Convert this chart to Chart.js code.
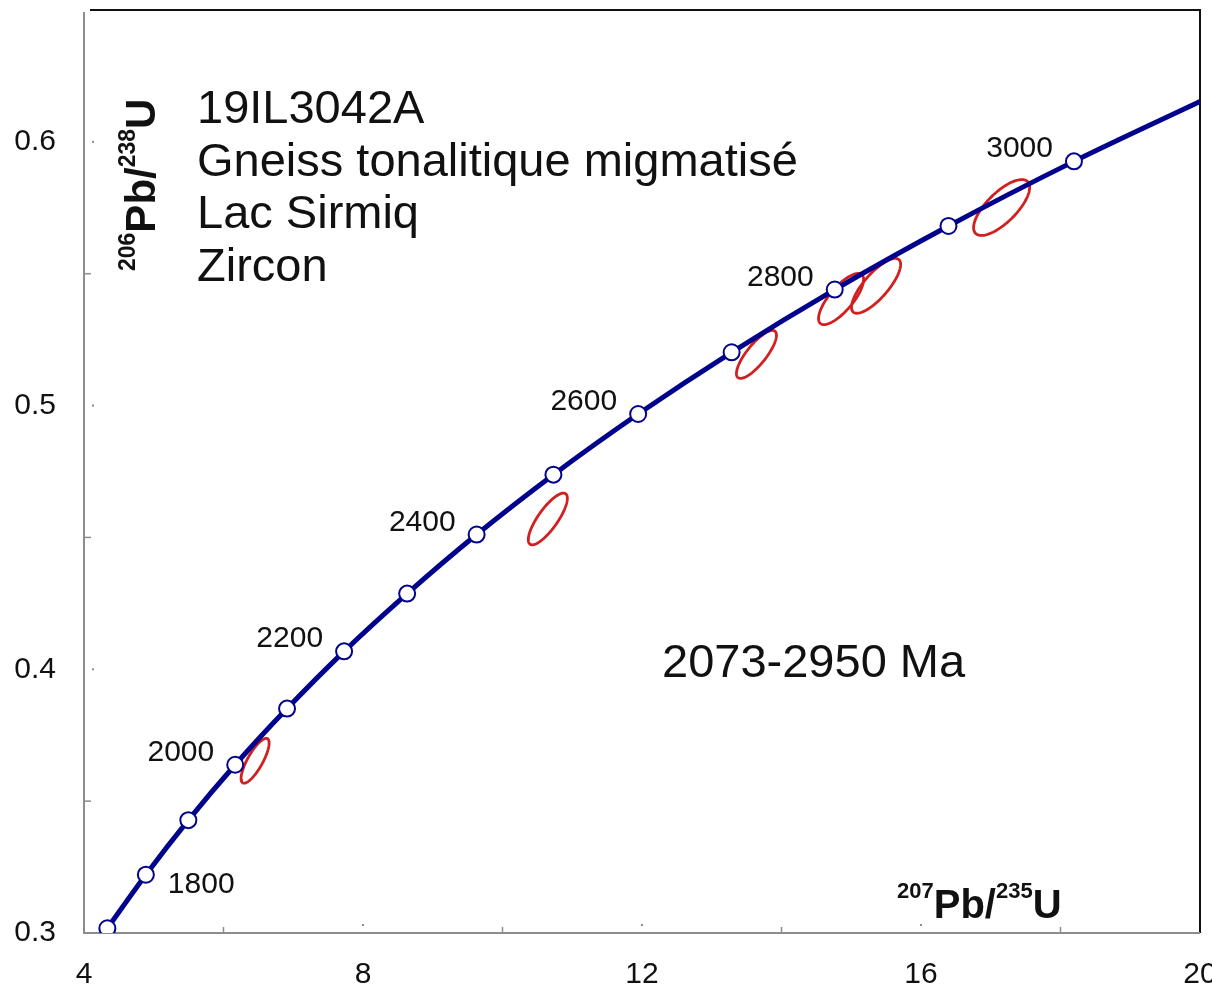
<!DOCTYPE html>
<html>
<head>
<meta charset="utf-8">
<script src="https://cdn.jsdelivr.net/npm/chart.js@4.4.1/dist/chart.umd.min.js"></script>
<style>
  html, body { margin: 0; padding: 0; background: #fff; }
  #chartConcordia { display: block; }
</style>
</head>
<body>
<canvas id="chartConcordia" width="1212" height="987"></canvas>
<script>
// points d'âge sur la concordia (Ma)
const markerAges = [1700, 1800, 1900, 2000, 2100, 2200, 2300, 2400, 2500, 2600, 2700, 2800, 2900, 3000];
const markerX = [4.335, 4.887, 5.496, 6.168, 6.911, 7.729, 8.633, 9.629, 10.730, 11.945, 13.285, 14.763, 16.394, 18.193];
const markerY = [0.3018, 0.3221, 0.3428, 0.3638, 0.3851, 0.4068, 0.4287, 0.4511, 0.4738, 0.4968, 0.5202, 0.5440, 0.5681, 0.5926];
const labelledAges = [1800, 2000, 2200, 2400, 2600, 2800, 3000];
// fin de la courbe au bord droit
const curveEndX = [20];
const curveEndY = [0.6153];

// ellipses d'erreur (centre, demi-largeurs, corrélation)
const ellX = [6.453, 10.650, 13.641, 14.854, 15.356, 17.156];
const ellY = [0.3653, 0.4570, 0.5194, 0.5404, 0.5454, 0.5751];
const ellDX = [0.201, 0.280, 0.287, 0.323, 0.352, 0.402];
const ellDY = [0.0085, 0.0098, 0.0091, 0.0097, 0.0104, 0.0106];
const ellRho = [0.79, 0.80, 0.80, 0.76, 0.78, 0.72];

const sampleLines = ["19IL3042A", "Gneiss tonalitique migmatisé", "Lac Sirmiq", "Zircon"];
const ageRange = "2073-2950 Ma";

const xTicks = [4, 8, 12, 16, 20];
const yTicks = [0.3, 0.4, 0.5, 0.6];

const FONT = "'Liberation Sans', Arial, sans-serif";
const NAVY = "#02038c";
const RED = "#d21f1f";

function pointsCourbe() {
    const pts = markerX.map((x, i) => ({ x: x, y: markerY[i] }));
    curveEndX.forEach((x, i) => pts.push({ x: x, y: curveEndY[i] }));
    return pts;
}

function dessinerTexteIndice(ctx, parts, x, y) {
    // parts: [texte, taille, exposant?]
    let cx = x;
    parts.forEach((p) => {
        ctx.font = "bold " + p[1] + "px " + FONT;
        ctx.fillText(p[0], cx, p[2] ? y - 20 : y);
        cx += ctx.measureText(p[0]).width;
    });
}

const pluginEllipses = {
    id: "ellipses",
    beforeDatasetsDraw(chart) {
        const ctx = chart.ctx;
        const sx = chart.scales.x;
        const sy = chart.scales.y;
        ctx.save();
        ctx.strokeStyle = RED;
        ctx.lineWidth = 2.8;
        for (let i = 0; i < ellX.length; i++) {
            const phi = Math.acos(ellRho[i]);
            ctx.beginPath();
            for (let k = 0; k <= 120; k++) {
                const t = (k / 120) * Math.PI * 2;
                const px = sx.getPixelForValue(ellX[i] + ellDX[i] * Math.cos(t));
                const py = sy.getPixelForValue(ellY[i] + ellDY[i] * Math.cos(t - phi));
                if (k === 0) ctx.moveTo(px, py); else ctx.lineTo(px, py);
            }
            ctx.closePath();
            ctx.stroke();
        }
        ctx.restore();
    }
};

const pluginCadre = {
    id: "cadre",
    beforeDatasetsDraw(chart) {
        const ctx = chart.ctx;
        const a = chart.chartArea;
        const sx = chart.scales.x;
        const sy = chart.scales.y;
        ctx.save();
        ctx.lineWidth = 2;
        ctx.strokeStyle = "#111";
        ctx.beginPath();
        ctx.moveTo(a.left + 6, a.top);
        ctx.lineTo(a.right, a.top);
        ctx.lineTo(a.right, a.bottom);
        ctx.stroke();
        ctx.strokeStyle = "#8c8c8c";
        ctx.beginPath();
        ctx.moveTo(a.left, a.top + 2);
        ctx.lineTo(a.left, a.bottom);
        ctx.lineTo(a.right, a.bottom);
        ctx.stroke();
        // petites graduations
        ctx.lineWidth = 1.5;
        [6, 10, 14, 18].forEach((v) => {
            const px = sx.getPixelForValue(v);
            ctx.beginPath();
            ctx.moveTo(px, a.bottom);
            ctx.lineTo(px, a.bottom - 6);
            ctx.stroke();
        });
        [0.35, 0.45, 0.55].forEach((v) => {
            const py = sy.getPixelForValue(v);
            ctx.beginPath();
            ctx.moveTo(a.left, py);
            ctx.lineTo(a.left + 7, py);
            ctx.stroke();
        });
        ctx.fillStyle = "#8c8c8c";
        [8, 12, 16].forEach((v) => {
            ctx.fillRect(sx.getPixelForValue(v) - 1, a.bottom - 9, 2, 2);
        });
        [0.4, 0.5, 0.6].forEach((v) => {
            ctx.fillRect(a.left + 8, sy.getPixelForValue(v) - 1, 2, 2);
        });
        ctx.restore();
    }
};

const pluginTextes = {
    id: "textes",
    afterDatasetsDraw(chart) {
        const ctx = chart.ctx;
        const sx = chart.scales.x;
        const sy = chart.scales.y;
        ctx.save();
        ctx.fillStyle = "#111";
        ctx.textBaseline = "alphabetic";
        // bloc échantillon
        ctx.font = "47px " + FONT;
        ctx.textAlign = "left";
        sampleLines.forEach((t, i) => {
            ctx.fillText(t, 197, 123 + i * 52.7);
        });
        ctx.fillText(ageRange, 662, 677);
        // étiquettes d'âge
        ctx.font = "30px " + FONT;
        labelledAges.forEach((age) => {
            const i = markerAges.indexOf(age);
            const px = sx.getPixelForValue(markerX[i]);
            const py = sy.getPixelForValue(markerY[i]);
            if (age === 1800) {
                ctx.textAlign = "left";
                ctx.fillText(String(age), px + 22, py + 18);
            } else {
                ctx.textAlign = "right";
                ctx.fillText(String(age), px - 21, py - 4);
            }
        });
        // titres des axes
        ctx.textAlign = "left";
        dessinerTexteIndice(ctx, [["207", 22, true], ["Pb/", 40], ["235", 22, true], ["U", 40]], 897, 918);
        ctx.translate(155, 267);
        ctx.rotate(-Math.PI / 2);
        dessinerTexteIndice(ctx, [["206", 23, true], ["Pb/", 42], ["238", 23, true], ["U", 42]], -4, 0);
        ctx.restore();
    }
};

function creerGraphique() {
    const canvas = document.getElementById("chartConcordia");
    const data = {
        datasets: [
            {
                label: "marqueurs",
                data: markerX.map((x, i) => ({ x: x, y: markerY[i] })),
                showLine: false,
                pointRadius: 8,
                pointBorderWidth: 2,
                pointBackgroundColor: "#ffffff",
                pointBorderColor: NAVY,
                order: 0
            },
            {
                label: "concordia",
                data: pointsCourbe(),
                showLine: true,
                borderColor: NAVY,
                borderWidth: 5,
                pointRadius: 0,
                cubicInterpolationMode: "monotone",
                fill: false,
                order: 1
            }
        ]
    };
    const config = {
        type: "scatter",
        data,
        options: {
            responsive: false,
            animation: false,
            layout: { padding: { top: 8, right: 12, left: 0, bottom: 0 } },
            plugins: { legend: { display: false }, tooltip: { enabled: false } },
            scales: {
                x: {
                    type: "linear",
                    min: 4,
                    max: 20,
                    grid: { display: false, drawTicks: false },
                    border: { display: false },
                    afterBuildTicks: (s) => { s.ticks = xTicks.map((v) => ({ value: v })); },
                    afterFit: (s) => { s.height = 54; s.paddingLeft = 0; s.paddingRight = 0; },
                    ticks: {
                        padding: 24,
                        color: "#111",
                        font: { family: FONT, size: 30 },
                        maxRotation: 0,
                        autoSkip: false
                    }
                },
                y: {
                    type: "linear",
                    min: 0.3,
                    max: 0.65,
                    grid: { display: false, drawTicks: false },
                    border: { display: false },
                    afterBuildTicks: (s) => { s.ticks = yTicks.map((v) => ({ value: v })); },
                    afterFit: (s) => { s.width = 84; s.paddingTop = 0; s.paddingBottom = 0; },
                    ticks: {
                        padding: 28,
                        color: "#111",
                        font: { family: FONT, size: 30 },
                        autoSkip: false,
                        callback: (v) => v.toFixed(1)
                    }
                }
            }
        },
        plugins: [pluginCadre, pluginEllipses, pluginTextes]
    };
    return new Chart(canvas, config);
}

creerGraphique();
</script>
</body>
</html>
